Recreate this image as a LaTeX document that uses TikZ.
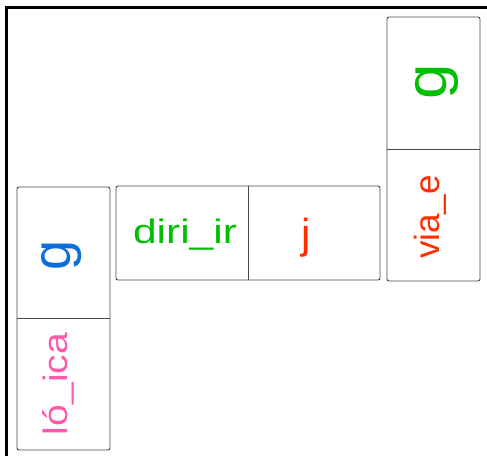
\documentclass[tikz,border=0pt]{standalone}
\usepackage{fontspec}
\setmainfont{Liberation Sans}
\definecolor{tgreen}{RGB}{0,190,0}
\definecolor{tred}{RGB}{255,45,0}
\definecolor{tblue}{RGB}{10,110,220}
\definecolor{tpink}{RGB}{255,90,170}
\definecolor{tileline}{RGB}{70,70,70}
\tikzset{
  tile/.style={draw=tileline, line width=0.9pt, rounded corners=2pt, inner sep=0pt},
  divider/.style={draw=tileline, line width=0.9pt},
  frameline/.style={draw=black, line width=2.6pt},
  lbl/.style={inner sep=0pt, anchor=center},
}
\newcommand{\fs}[1]{\fontsize{#1}{#1}\selectfont}
\begin{document}
\begin{tikzpicture}[x=1pt,y=-1pt]
\useasboundingbox (0,0) rectangle (487,456);
% frame
\coordinate (fA) at (6.3,456);
\coordinate (fB) at (6.3,7.5);
\coordinate (fC) at (487,7.5);
\draw[frameline] (fA) -- (fB) -- (fC);
% tiles
\node[tile, minimum width=93pt, minimum height=263pt] (L) at (63.5,318.5) {};
\node[tile, minimum width=264pt, minimum height=94pt] (M) at (248,233) {};
\node[tile, minimum width=93pt, minimum height=264pt] (R) at (433.5,149) {};
% dividers
\coordinate (Ldiv) at (63.5,318);
\coordinate (Mdiv) at (248,233);
\coordinate (Rdiv) at (433.5,149);
\draw[divider] (L.west |- Ldiv) -- (L.east |- Ldiv);
\draw[divider] (M.north -| Mdiv) -- (M.south -| Mdiv);
\draw[divider] (R.west |- Rdiv) -- (R.east |- Rdiv);
% labels
\node[lbl, text=tblue, rotate=90] (gL) at (62,255.5) {\fs{54}g};
\node[lbl, text=tpink, rotate=90] (logica) at (58.5,384) {\scalebox{1.15}[1]{\fs{34}ló\_ica}};
\node[lbl, text=tgreen] (dirigir) at (185,234.5) {\scalebox{1.25}[1]{\fs{34}diri\_ir}};
\node[lbl, text=tred] (j) at (306,237.5) {\fs{42}j};
\node[lbl, text=tgreen, rotate=90] (gR) at (436.5,82) {\scalebox{1.1}[1]{\fs{58}g}};
\node[lbl, text=tred, rotate=90] (viage) at (430.5,217) {\fs{35}via\_e};
\end{tikzpicture}
\end{document}
